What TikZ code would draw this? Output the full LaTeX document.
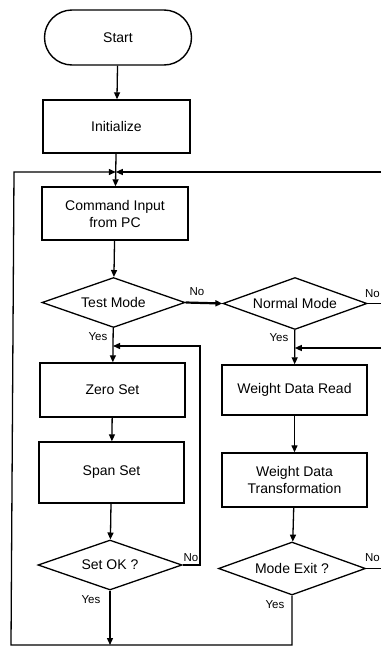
\documentclass[tikz,border=0pt]{standalone}
\usepackage{fontspec}
\setmainfont{Liberation Sans}
\usetikzlibrary{shapes.geometric,arrows.meta}
\begin{document}
\begin{tikzpicture}[x=1pt,y=-1pt,
  line width=1.3pt,
  font=\fontsize{14}{17}\selectfont,
  box/.style={draw,rectangle,inner sep=0pt,align=center,line width=1.4pt},
  term/.style={draw,rectangle,rounded corners=27.5pt,inner sep=0pt,line width=1.4pt},
  dec/.style={draw,diamond,aspect=2.8,inner sep=0pt,line width=1.3pt},
  arr/.style={-{Triangle[length=7pt,width=6pt]}},
  lbl/.style={font=\fontsize{11.5}{13}\selectfont,inner sep=0pt}
]
\useasboundingbox (0,0) rectangle (381,656);
\fill[white] (0,0) rectangle (381,656);
\clip (0,0) rectangle (381,656);

% left column
\node[term,minimum width=147pt,minimum height=55pt] (start) at (118,37.5) {Start};
\node[box,minimum width=147pt,minimum height=53pt] (init) at (116.5,126.5) {Initialize};
\node[box,minimum width=146pt,minimum height=53pt] (cmd) at (115,213.5) {Command Input\\from PC};
\node[dec,minimum width=143pt,minimum height=50pt] (test) at (113.5,302.5) {Test Mode};
\node[box,minimum width=145pt,minimum height=54pt] (zero) at (112.5,390) {Zero Set};
\node[box,minimum width=145pt,minimum height=61pt] (span) at (111.5,472.5) {Span Set};
\node[dec,minimum width=144pt,minimum height=50pt] (setok) at (110,565) {Set OK ?};

% right column
\node[dec,minimum width=144pt,minimum height=52pt] (normal) at (295,303.5) {Normal Mode};
\node[box,minimum width=145pt,minimum height=50pt] (wdr) at (294.5,390) {Weight Data Read};
\node[box,minimum width=145pt,minimum height=54pt] (wdt) at (294.5,480) {Weight Data\\Transformation};
\node[dec,minimum width=147pt,minimum height=53pt] (modeexit) at (292,568.5) {Mode Exit ?};

% coordinates
\coordinate (jt) at (115.8,172);
\coordinate (tl) at (14,172);
\coordinate (tr) at (381,172);
\coordinate (bl) at (11,645);
\coordinate (jl) at (113,346);
\coordinate (nr1) at (200,565);
\coordinate (nr2) at (200,346);
\coordinate (jr) at (294.8,348);
\coordinate (rr) at (381,348);

% connectors left
\draw[arr] (start) -- (init);
\draw[arr] (init) -- (cmd);
\draw[arr] (tr) -- (jt);
\draw[arr] (modeexit.south) |- (bl) -- (tl) -- (jt);
\draw[arr] (cmd) -- (test);
\draw[arr] (test) -- (zero);
\draw[arr] (setok.east) -- (nr1) -- (nr2) -- (jl);
\draw[arr] (zero) -- (span);
\draw[arr] (span) -- (setok);
\draw[arr] (setok.south) -- (setok.south |- bl);

% connectors right
\draw[arr,line width=2.2pt] (test.east) -- (normal.west);
\draw[arr] (normal) -- (wdr);
\draw[arr] (rr) -- (jr);
\draw (normal.east) -- (normal.east -| rr);
\draw[arr] (wdr) -- (wdt);
\draw[arr] (wdt) -- (modeexit);
\draw (modeexit.east) -- (modeexit.east -| rr);

% labels
\node[lbl] (l1) at (197,292) {No};
\node[lbl] (l2) at (372.5,294) {No};
\node[lbl] (l3) at (98,337) {Yes};
\node[lbl] (l4) at (279,338) {Yes};
\node[lbl] (l5) at (191,558) {No};
\node[lbl] (l6) at (91,600) {Yes};
\node[lbl] (l7) at (372.5,558) {No};
\node[lbl] (l8) at (275,605) {Yes};
\end{tikzpicture}
\end{document}
